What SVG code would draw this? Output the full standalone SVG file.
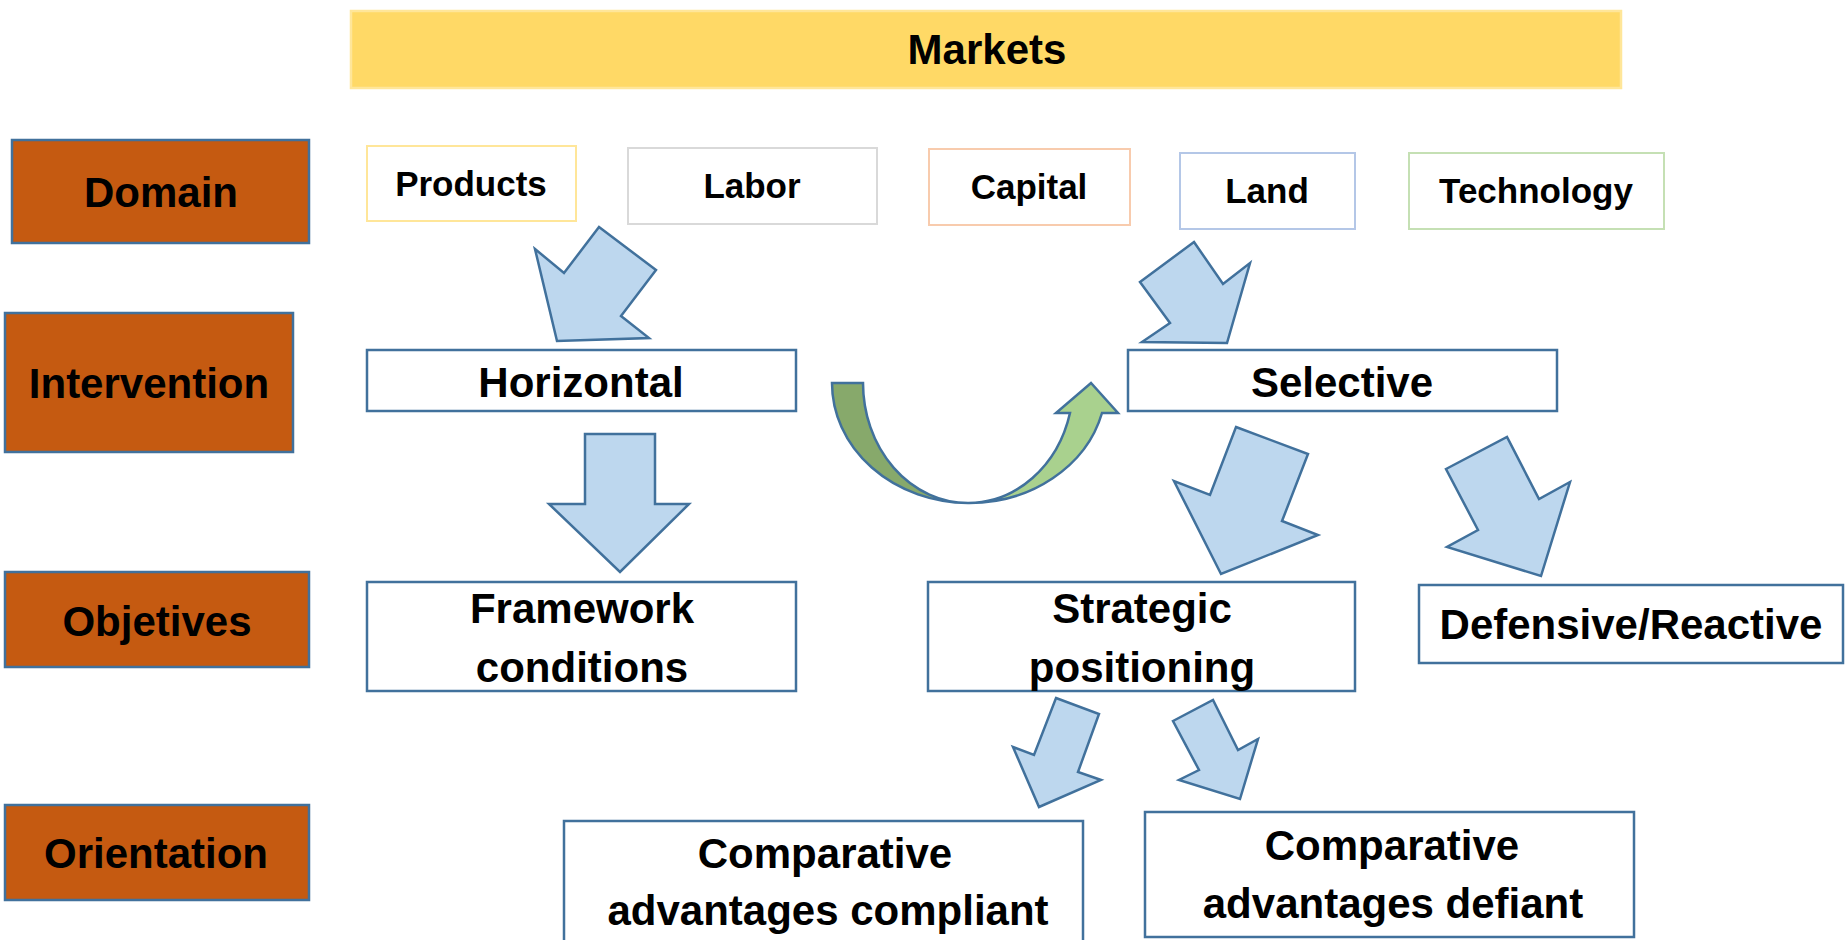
<svg xmlns="http://www.w3.org/2000/svg" width="1845" height="940" viewBox="0 0 1845 940">
<style>
text{font-family:"Liberation Sans",Arial,sans-serif;font-weight:bold;fill:#000;text-anchor:middle}
.big{font-size:42px}
.small{font-size:35px}
.lab{fill:#C55A11;stroke:#41719C;stroke-width:2.5}
.box{fill:#fff;stroke:#41719C;stroke-width:2.5}
.dom{fill:#fff;stroke-width:2}
.arr{fill:#BDD7EE;stroke:#41719C;stroke-width:2.5;stroke-linejoin:miter}
</style>
<rect width="1845" height="940" fill="#fff"/>
<g id="markets">
<rect x="351" y="11" width="1270" height="77" fill="#FFD966" stroke="#FFE699" stroke-width="2.5"/>
<text class="big" x="987" y="64">Markets</text>
</g>
<g id="domain">
<rect class="lab" x="12" y="140" width="297" height="103"/>
<text class="big" x="161" y="207">Domain</text>
</g>
<g id="intervention">
<rect class="lab" x="5" y="313" width="288" height="139"/>
<text class="big" x="149" y="398">Intervention</text>
</g>
<g id="objetives">
<rect class="lab" x="5" y="572" width="304" height="95"/>
<text class="big" x="157" y="636">Objetives</text>
</g>
<g id="orientation">
<rect class="lab" x="5" y="805" width="304" height="95"/>
<text class="big" x="156" y="868">Orientation</text>
</g>
<g id="products">
<rect class="dom" x="367" y="146" width="209" height="75" stroke="#FFE699"/>
<text class="small" x="471" y="196">Products</text>
</g>
<g id="labor">
<rect class="dom" x="628" y="148" width="249" height="76" stroke="#D9D9D9"/>
<text class="small" x="752" y="198">Labor</text>
</g>
<g id="capital">
<rect class="dom" x="929" y="149" width="201" height="76" stroke="#F8CBAD"/>
<text class="small" x="1029" y="199">Capital</text>
</g>
<g id="land">
<rect class="dom" x="1180" y="153" width="175" height="76" stroke="#B4C7E7"/>
<text class="small" x="1267" y="203">Land</text>
</g>
<g id="technology">
<rect class="dom" x="1409" y="153" width="255" height="76" stroke="#C5E0B4"/>
<text class="small" x="1536" y="203">Technology</text>
</g>
<g id="horizontal">
<rect class="box" x="367" y="350" width="429" height="61"/>
<text class="big" x="581" y="397">Horizontal</text>
</g>
<g id="selective">
<rect class="box" x="1128" y="350" width="429" height="61"/>
<text class="big" x="1342" y="397">Selective</text>
</g>
<g id="framework">
<rect class="box" x="367" y="582" width="429" height="109"/>
<text class="big" x="582" y="623">Framework</text>
<text class="big" x="582" y="682">conditions</text>
</g>
<g id="strategic">
<rect class="box" x="928" y="582" width="427" height="109"/>
<text class="big" x="1142" y="623">Strategic</text>
<text class="big" x="1142" y="682">positioning</text>
</g>
<g id="defensive">
<rect class="box" x="1419" y="585" width="424" height="78"/>
<text class="big" x="1631" y="639">Defensive/Reactive</text>
</g>
<g id="compliant">
<rect class="box" x="564" y="821" width="519" height="130"/>
<text class="big" x="825" y="868">Comparative</text>
<text class="big" x="828" y="925">advantages compliant</text>
</g>
<g id="defiant">
<rect class="box" x="1145" y="812" width="489" height="125"/>
<text class="big" x="1392" y="860">Comparative</text>
<text class="big" x="1393" y="918">advantages defiant</text>
</g>
<g id="connectors">
<polygon class="arr" points="535,249 564,273 599,227 656,270 621,316 649,338 557,341"/>
<polygon class="arr" points="1194,242 1223,284 1250,263 1227,343 1142,342 1170,323 1140,282"/>
<polygon class="arr" points="585,434 655,434 655,504 689,504 620,572 549,504 585,504"/>
<polygon class="arr" points="1236,427 1308,454 1282,521 1318,535 1221,574 1174,481 1210,495"/>
<polygon class="arr" points="1446,469 1507,437 1539,499 1570,482 1541,576 1447,547 1478,530"/>
<polygon class="arr" points="1056,698 1099,714 1078,772 1101,780 1039,807 1013,747 1034,755"/>
<polygon class="arr" points="1173,721 1213,700 1238,750 1258,739 1240,799 1179,780 1199,770"/>
<path d="M832,383 L863,383 A105 120 0 0 0 968,503 A137 120 0 0 1 832,383 Z" fill="#87A96B" stroke="#41719C" stroke-width="2.5"/>
<path d="M968,503 A137 120 0 0 0 1102,413 L1118,413 L1091,383 L1056,413 L1070,413 A105 120 0 0 1 968,503 Z" fill="#A9D18E" stroke="#41719C" stroke-width="2.5"/>
</g>
</svg>
